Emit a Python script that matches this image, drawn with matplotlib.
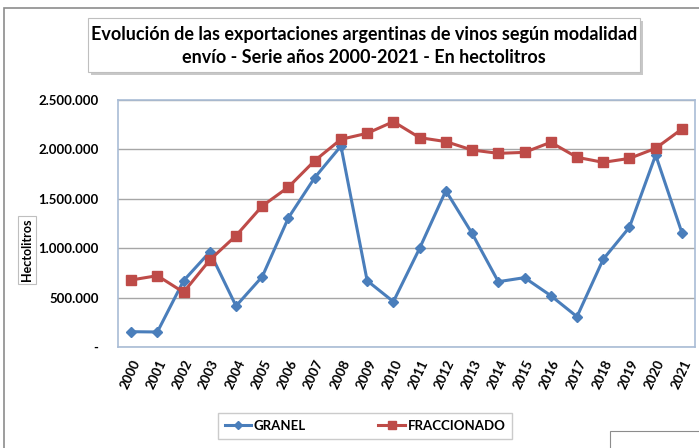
import matplotlib
matplotlib.use("Agg")
import matplotlib.pyplot as plt
from matplotlib.patches import Rectangle
from matplotlib.ticker import FuncFormatter

# 데이터
years = [str(y) for y in range(2000, 2022)]
granel = [155000, 152000, 671000, 962000, 415000, 712000, 1309000, 1714000, 2034000, 671000,
          459000, 999000, 1582000, 1150000, 661000, 702000, 520000, 307000, 888000, 1212000,
          1943000, 1157000]
fraccionado = [678000, 722000, 554000, 881000, 1127000, 1427000, 1619000, 1886000, 2102000, 2163000,
               2281000, 2119000, 2079000, 1994000, 1960000, 1970000, 2072000, 1920000, 1869000, 1909000,
               2011000, 2206000]

title = ("Evolución de las exportaciones argentinas de vinos según modalidad\n"
         "envío - Serie años 2000-2021 - En hectolitros")

plt.rcParams['font.family'] = ['Lato', 'DejaVu Sans']

W, H = 699, 448
fig = plt.figure(figsize=(W / 100, H / 100), dpi=100)

def fx(px):
    return px / W

def fy(py):
    return 1 - py / H

# 외곽 테두리
fig.patches.append(Rectangle((fx(4), fy(H + 5)), fx(W + 10), fy(8) - fy(H + 5),
                             transform=fig.transFigure, fill=False, edgecolor='#8c8c8c', lw=1.2))

# 제목 박스 (그림자 포함)
fig.patches.append(Rectangle((fx(91), fy(75)), fx(552), fy(18) - fy(72),
                             transform=fig.transFigure, facecolor='#c8c8c8', edgecolor='none'))
fig.patches.append(Rectangle((fx(88), fy(72)), fx(552), fy(18) - fy(72),
                             transform=fig.transFigure, facecolor='white', edgecolor='#bfbfbf', lw=0.8))
fig.text(fx(364), fy(46), title, ha='center', va='center', fontsize=13, fontweight='bold',
         linespacing=1.45)

ax = fig.add_axes([fx(118), fy(347), fx(695 - 118), fy(100) - fy(347)])
x = list(range(len(years)))
ax.plot(x, granel, color='#4a7ebb', marker='D', markersize=5.5, lw=2.2, label='GRANEL')
ax.plot(x, fraccionado, color='#be4b48', marker='s', markersize=7, lw=2.2, label='FRACCIONADO')

ax.set_xlim(-0.5, len(years) - 0.5)
ax.set_ylim(0, 2500000)
ax.set_yticks(range(0, 2500001, 500000))
ax.yaxis.set_major_formatter(FuncFormatter(
    lambda v, p: '-' if v == 0 else f"{int(v):,}".replace(',', '.')))
ax.set_xticks(x)
ax.set_xticklabels(years, rotation=65, ha='right', rotation_mode='anchor')
ax.tick_params(axis='both', length=0, labelsize=9.5)
ax.tick_params(axis='y', pad=14)
ax.tick_params(axis='x', pad=8)
for lab in ax.get_xticklabels() + ax.get_yticklabels():
    lab.set_fontweight('bold')

ax.grid(axis='y', color='#a6a6a6', lw=1)
ax.set_axisbelow(True)
for s in ax.spines.values():
    s.set_color('#a9bcd6')
    s.set_linewidth(1.2)

# Y축 라벨 (박스)
fig.text(fx(27), fy(250), 'Hectolitros', rotation=90, ha='center', va='center', fontsize=9,
         fontweight='bold',
         bbox=dict(boxstyle='square,pad=0.25', facecolor='white', edgecolor='#bfbfbf', lw=0.8))

# 범례
leg = fig.legend(loc='center', bbox_to_anchor=(fx(365), fy(426)), ncol=2, fontsize=9.5,
                 frameon=True, fancybox=False, edgecolor='#bfbfbf', handlelength=2.0,
                 handletextpad=0.2, columnspacing=5.5, borderpad=0.5, borderaxespad=0,
                 markerscale=0.8)
leg.get_frame().set_boxstyle('square', pad=0)
for t in leg.get_texts():
    t.set_fontweight('bold')

# 우측 하단 잘린 박스
fig.patches.append(Rectangle((fx(610), fy(H + 5)), fx(100), fy(431) - fy(H + 5),
                             transform=fig.transFigure, fill=False, edgecolor='#8c8c8c', lw=0.8))

fig.savefig('out.png', dpi=100)
